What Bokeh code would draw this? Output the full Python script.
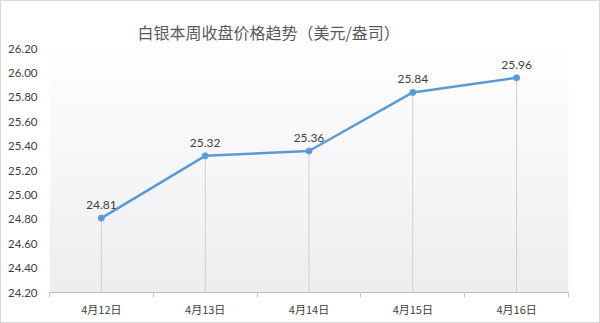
import numpy as np
from bokeh.plotting import figure
from bokeh.models import Range1d, FixedTicker, ColumnDataSource, LabelSet, NumeralTickFormatter
from bokeh.core.properties import value
from bokeh.embed import file_html
from bokeh.resources import INLINE

title_text = "白银本周收盘价格趋势（美元/盎司）"
categories = ["4月12日", "4月13日", "4月14日", "4月15日", "4月16日"]
prices = [24.81, 25.32, 25.36, 25.84, 25.96]
y_ticks = [24.20, 24.40, 24.60, 24.80, 25.00, 25.20, 25.40, 25.60, 25.80, 26.00, 26.20]

CJK = "Noto Sans CJK SC"
NUM = "Lato"
xs = list(range(1, len(categories) + 1))
y_lo, y_hi = y_ticks[0], y_ticks[-1]

p = figure(width=598, height=321, frame_width=519, frame_height=244,
           min_border_left=48, min_border_right=31, min_border_top=47, min_border_bottom=30,
           x_range=Range1d(0.5, len(categories) + 0.5), y_range=Range1d(y_lo, y_hi),
           output_backend="svg", toolbar_location=None, title=title_text)
p.styles = {"border": "1px solid #d9d9d9"}
p.outline_line_color = None
p.grid.visible = False
p.background_fill_color = "white"

p.title.align = "left"
p.title.offset = 88
p.title.text_font = CJK
p.title.text_font_size = "16px"
p.title.text_font_style = "normal"
p.title.text_color = "#595959"

# gradient plot-area fill (white top -> light grey bottom)
n = 64
t = np.linspace(0, 1, n)[:, None]
top = np.array([255, 255, 255]); bot = np.array([238, 238, 241])
rgb = (bot + (top - bot) * t).astype(np.uint32)
img = np.zeros((n, 1), dtype=np.uint32)
view = img.view(dtype=np.uint8).reshape((n, 1, 4))
view[:, :, 0] = rgb[:, 0:1]
view[:, :, 1] = rgb[:, 1:2]
view[:, :, 2] = rgb[:, 2:3]
view[:, :, 3] = 255
p.image_rgba(image=[img], x=0.5, y=y_lo, dw=len(categories), dh=y_hi - y_lo)

src = ColumnDataSource(dict(x=xs, y=prices, lo=[y_lo] * len(xs),
                            lbl=[f"{v:.2f}" for v in prices]))
p.segment(x0="x", y0="lo", x1="x", y1="y", source=src, line_color="#d0d0d0", line_width=1)
p.line("x", "y", source=src, line_color="#5b9bd5", line_width=2.5)
p.scatter("x", "y", source=src, size=6, fill_color="#5b9bd5", line_color="#5b9bd5")
p.add_layout(LabelSet(x="x", y="y", text="lbl", source=src, y_offset=9,
                      text_align="center", text_baseline="bottom",
                      text_font=value(NUM), text_font_size="12px", text_color="#404040"))

# y axis
p.yaxis.ticker = FixedTicker(ticks=y_ticks)
p.yaxis.formatter = NumeralTickFormatter(format="0.00")
p.yaxis.axis_line_color = None
p.yaxis.major_tick_line_color = None
p.yaxis.major_tick_out = 0
p.yaxis.major_tick_in = 0
p.yaxis.minor_tick_line_color = None
p.yaxis.minor_tick_out = 0
p.yaxis.major_label_standoff = 12
p.yaxis.major_label_text_font = NUM
p.yaxis.major_label_text_font_size = "11.5px"
p.yaxis.major_label_text_color = "#404040"

# x axis
p.xaxis.ticker = FixedTicker(ticks=xs, minor_ticks=[x - 0.5 for x in xs] + [xs[-1] + 0.5])
p.xaxis.major_label_overrides = {x: c for x, c in zip(xs, categories)}
p.xaxis.axis_line_color = "#bfbfbf"
p.xaxis.major_tick_line_color = None
p.xaxis.major_tick_out = 0
p.xaxis.major_tick_in = 0
p.xaxis.minor_tick_line_color = "#bfbfbf"
p.xaxis.minor_tick_out = 5
p.xaxis.minor_tick_in = 0
p.xaxis.major_label_standoff = 3
p.xaxis.major_label_text_font = CJK
p.xaxis.major_label_text_font_size = "11px"
p.xaxis.major_label_text_color = "#404040"

open("out.html", "w").write(file_html(p, INLINE))
